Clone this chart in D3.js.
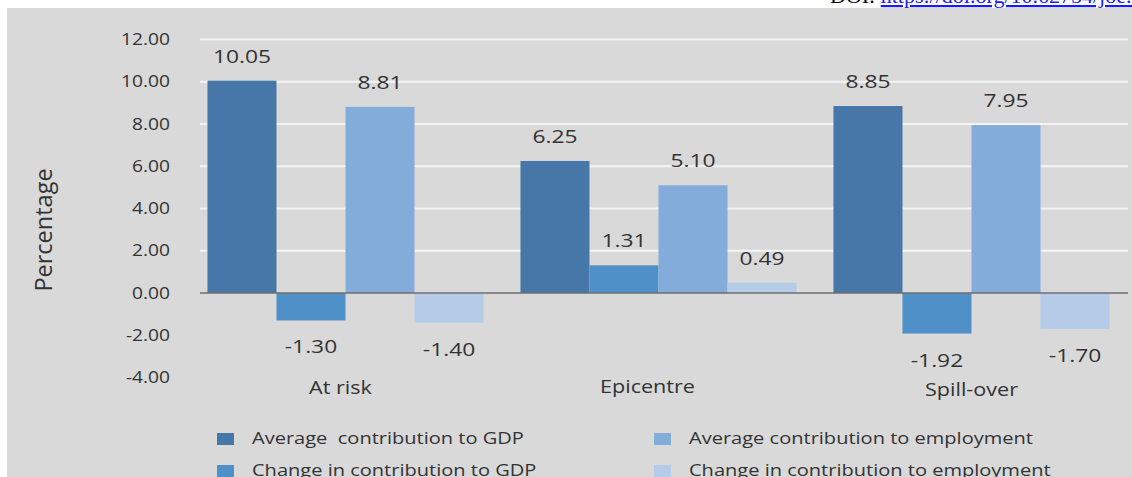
<!DOCTYPE html>
<html>
<head>
<meta charset="utf-8">
<script src="https://cdn.jsdelivr.net/npm/d3@7"></script>
<style>
html,body{margin:0;padding:0;background:#fff;}
svg{display:block;}
text{white-space:pre;}
</style>
</head>
<body>
<svg id="chart" width="1132" height="477"></svg>
<script>
const categories = ["At risk", "Epicentre", "Spill-over"];
const seriesNames = ["Average  contribution to GDP", "Change in contribution to GDP", "Average contribution to employment", "Change in contribution to employment"];
const avgGDP = [10.05, 6.25, 8.85];
const changeGDP = [-1.30, 1.31, -1.92];
const avgEmp = [8.81, 5.10, 7.95];
const changeEmp = [-1.40, 0.49, -1.70];
const yTicks = [-4, -2, 0, 2, 4, 6, 8, 10, 12];
const colors = ["#4677a8", "#5090c8", "#84acdb", "#b5cbe8"];

const seriesValues = [avgGDP, changeGDP, avgEmp, changeEmp];
const svg = d3.select("#chart");
const font = "'Open Sans', 'Noto Sans', sans-serif";
const textColor = "#333";
const SX = 1.2; // horizontal stretch of glyphs seen in the reference
const fmt = v => d3.format(".2f")(v).replace("\u2212", "-");

// stretch a text horizontally around its own x anchor
function stretch(sel) {
  sel.each(function() {
    const t = d3.select(this);
    const x = +t.attr("x") || 0;
    const prev = t.attr("transform") || "";
    t.attr("transform", `${prev} translate(${x},0) scale(${SX},1) translate(${-x},0)`);
  });
}

// background
svg.append("rect").attr("x", 7).attr("y", 8).attr("width", 1125).attr("height", 469).attr("fill", "#d9d9d9");

// DOI header (clipped at top)
const doi = svg.append("text").attr("x", 830).attr("y", 3).attr("font-family", "'Liberation Serif', 'DejaVu Serif', serif").attr("font-size", 22);
doi.append("tspan").attr("fill", "#000").text("DOI: ");
doi.append("tspan").attr("fill", "#1a1aff").attr("text-decoration", "underline").text("https://doi.org/10.62754/joe.v3i8.5061");

const y = d3.scaleLinear().domain([-4, 12]).range([377.5, 39.5]);
const x0 = d3.scaleBand().domain(categories).range([189, 1128]).paddingInner(0.118).paddingOuter(0.059);
const x1 = d3.scaleBand().domain(d3.range(4)).range([0, x0.bandwidth()]);

const gridX1 = 200, gridX2 = 1128;

// gridlines
svg.append("g").selectAll("line").data(yTicks.filter(t => t > 0)).join("line")
  .attr("x1", gridX1).attr("x2", gridX2)
  .attr("y1", d => y(d)).attr("y2", d => y(d))
  .attr("stroke", "#f4f4f4").attr("stroke-width", 2);

// y axis labels via axis
const yAxis = d3.axisLeft(y).tickValues(yTicks).tickFormat(fmt).tickSize(0).tickPadding(0);
const ya = svg.append("g").attr("transform", "translate(170,0)").call(yAxis);
ya.select(".domain").remove();
ya.selectAll("text").attr("font-family", font).attr("font-size", 16).attr("fill", textColor).call(stretch);

// bars
const groups = svg.append("g").selectAll("g").data(categories).join("g")
  .attr("transform", d => `translate(${x0(d)},0)`);

groups.selectAll("rect").data((c, i) => seriesValues.map((s, k) => ({k, v: s[i]}))).join("rect")
  .attr("x", d => x1(d.k))
  .attr("width", x1.bandwidth())
  .attr("y", d => y(Math.max(0, d.v)))
  .attr("height", d => Math.abs(y(d.v) - y(0)))
  .attr("fill", d => colors[d.k]);

// value labels
groups.selectAll("text.val").data((c, i) => seriesValues.map((s, k) => ({k, v: s[i]}))).join("text")
  .attr("class", "val")
  .attr("x", d => x1(d.k) + x1.bandwidth() / 2)
  .attr("y", d => d.v >= 0 ? y(d.v) - 18 : y(d.v) + 33)
  .attr("text-anchor", "middle")
  .attr("font-family", font).attr("font-size", 19).attr("fill", textColor)
  .text(d => fmt(d.v))
  .call(stretch);

// zero line
svg.append("line").attr("x1", gridX1).attr("x2", gridX2).attr("y1", y(0)).attr("y2", y(0))
  .attr("stroke", "#6e6e6e").attr("stroke-width", 1.5);

// category labels
const catOffsets = [-5, -11, 0];
const catY = [394, 393, 396];
svg.append("g").selectAll("text").data(categories).join("text")
  .attr("x", (d, i) => x0(d) + x0.bandwidth() / 2 + catOffsets[i])
  .attr("y", (d, i) => catY[i])
  .attr("text-anchor", "middle")
  .attr("font-family", font).attr("font-size", 18).attr("fill", textColor)
  .text(d => d)
  .call(stretch);

// y axis title
svg.append("text").attr("transform", "translate(52,230) rotate(-90)")
  .attr("text-anchor", "middle")
  .attr("font-family", font).attr("font-size", 23.5).attr("fill", textColor)
  .text("Percentage");

// legend
const legendPos = [[217, 439], [217, 471], [654, 439], [654, 471]];
const lg = svg.append("g").selectAll("g").data(seriesNames).join("g")
  .attr("transform", (d, i) => `translate(${legendPos[i][0]},${legendPos[i][1]})`);
lg.append("rect").attr("x", 0).attr("y", -6).attr("width", 17).attr("height", 12).attr("fill", (d, i) => colors[i]);
lg.append("text").attr("x", 35).attr("y", 5)
  .attr("font-family", font).attr("font-size", 16.7).attr("fill", textColor)
  .text(d => d)
  .call(stretch);
</script>
</body>
</html>
